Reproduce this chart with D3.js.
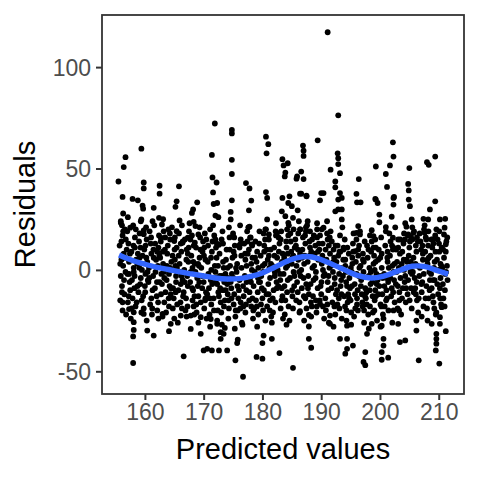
<!DOCTYPE html>
<html>
<head>
<meta charset="utf-8">
<script src="https://cdn.jsdelivr.net/npm/d3@7"></script>
<style>
  html, body { margin: 0; padding: 0; background: #fff; }
  svg { display: block; font-family: "Liberation Sans", Arial, Helvetica, sans-serif; }
</style>
</head>
<body>
<svg id="chart" width="480" height="480"></svg>
<script>
// Residuals vs predicted values

const xTicks = [160, 170, 180, 190, 200, 210];
const yTicks = [-50, 0, 50, 100];
const xTitle = "Predicted values";
const yTitle = "Residuals";

// points well above the band  [predicted, residual]
const upperPoints = [
  [159.4,59.8],[156.7,55.6],[156.4,50.7],[155.5,43.6],[171.9,72.2],[174.8,69],[174.8,67.3],[180.6,65.7],[181,62],[180.7,57.5],
  [171.4,56.7],[174.8,54.3],[174.8,47.3],[171.5,45.6],[172.2,43.1],[171.6,38.2],[159.8,43.1],[159.8,40.2],[162.5,41.5],[162.5,37.6],
  [165.8,41.2],[177.2,42.8],[177.8,40.2],[180.6,38.4],[183.4,54.6],[183.6,51.5],[184.3,52.6],[183.9,48],[183.8,46.1],[156.2,36],[157.9,35],
  [191.1,117.2],[192.9,76.2],[189.4,63.9],[186.9,61.3],[187,58.8],[187,56.2],[192.8,57.5],[192.9,55.1],[192.9,52.2],[191.6,49.4],
  [193.2,47.7],[192.4,43.6],[192.4,40.7],[193.2,37.9],[196.4,44.8],[196,37.5],[190.4,37.9],[186.6,37.6],[187.5,36.6],[185.9,46.1],
  [185.8,45],[187,44.8],[186.6,48.5],[199.3,51],[201,47.3],[201.2,40.9],[201.7,51.5],[202.3,55.9],[202.2,62.9],[205,50.2],
  [204.8,42.4],[204.9,39.2],[208,53.1],[208.3,51.8],[209.4,55.9],[202.4,36],[199.2,35],
  [158.8,34.3],[159.6,31.7],[159.7,30.2],[161.5,30.6],[165.4,33.8],[165.2,31.1],[168.9,33.3],[168.2,29.8],[168,28.1],[156.3,27.8],
  [155.9,23.2],[156.1,22],[156.6,20],[157.5,20.8],[159.4,24.9],[162.4,25.7],[162.9,22.4],[165.9,24.4],[168.3,23.7],[168.6,21.6],
  [169.1,17.5],[171.7,32.5],[172.3,33],[172,26.8],[172.5,26],[172,15],[172.6,12.4],[159.8,19.5],[159.8,17.6],[162.7,15.9],
  [165.4,19.1],[165,14.2],[166.4,13.4],[167.3,15.9],[168.5,13.4],
  [180.8,35.5],[174.8,34.3],[178.1,34.2],[174.6,28.6],[174.6,24.9],[177.7,29.4],[177.8,21.3],[183.4,35.5],[184.6,36.3],[184.4,33],
  [185,31.4],[183.3,28.9],[183.9,26.5],[185.2,25.7],[186.4,37.6],[187.5,36.3],[186,29.4],[187.7,24],[190,37.9],[189.8,34.3],
  [192.9,34.7],[192.9,29.8],[192.4,28.9],[180.8,24.9],[180.5,20],[181.1,17.5],[182.5,18.3],[184.4,23.2],[184.2,20],[191,24],
  [190.4,20.8],[189.3,20],[187.4,19.1],[186.4,20],[175,16.7],[175.2,16],[177.9,15.9],[178.2,12.6],[176.2,12.6],
  [196.1,33.3],[196.7,33.3],[199.3,34.7],[199.6,33],[202.3,35.5],[202.3,32.2],[204.9,34.7],[205.1,31.4],[209.4,33.8],[208.5,29.8],
  [207.4,25.2],[208.2,24.9],[210.2,24.9],[211.1,25.2],[193.5,35.5],[193.5,29.8],[193.5,24.9],[199.9,27.3],[199.9,23.5],[202,26.2],
  [205.4,24.9],[196.3,21.6],[196,18.3],[196.6,17.5],[198.6,19.6],[198.9,16.7],[199.2,15],[201,21.1],[202.2,15.9],[204.5,21.3],
  [204.8,17.5],[205.7,18.3],[205.5,15],[207.6,18.3],[207.9,15],[209,15],[209.6,20],[211,20.8],[210.9,17.5],[211.2,12.6],
  [193.8,11],[195.8,9.3],[198.9,11],[202.3,11]
];

// points well below the band
const lowerPoints = [
  [158,-45.9],[166.6,-42.6],[158,-32.8],[158.1,-29.6],[158.1,-25.8],[160.4,-29.9],[161.5,-32.4],[164.1,-30.2],[164.4,-26.6],[167.8,-29.1],
  [169.5,-31.5],[170.6,-38.9],[170,-39.7],[171.4,-39.7],[172.6,-39.7],[172.9,-34],[172.9,-30.7],[156.2,-16],[157.3,-19.3],[158.1,-20.9],
  [159.8,-21.7],[163,-21.7],[166.1,-22.5],[167.8,-22.5],[169.5,-23.3],[171.2,-24.2],[172.3,-26.6],
  [176.7,-52.7],[185.2,-48.3],[175.4,-44.6],[179,-42.9],[180,-43.8],[182.9,-41],[174,-39.7],[175.7,-36.1],[175.8,-34.4],
  [180,-36.1],[181.6,-34],[180.2,-32.4],[187.9,-34],[187.9,-27.9],[191.5,-26.6],[187.9,-22.2],[189.8,-16.8],[191.5,-22.5],[193.2,-34],
  [186.4,-20.4],[173.4,-31.5],[173.6,-28.6],
  [197.5,-47],[197.2,-45.4],[200.3,-44.3],[201.4,-43.3],[206.6,-44.6],[210.1,-46.2],[194.4,-38.9],[194.1,-41.3],[195.4,-37.3],[197.5,-40.5],
  [200.3,-40.5],[200.6,-37.3],[200.6,-34],[203.4,-35.6],[204.3,-34.8],[209.5,-39.7],[209.6,-36.4],[209.6,-34],[209.6,-31.5],[211.2,-30.2],
  [210.2,-26.6],[210.5,-18.4],[210.2,-23.3],[194.4,-27.5],[194.4,-34],[197.8,-31.5],[198.6,-26.6],[200.3,-27.5],[203.1,-26.6],[206.2,-25],
  [208.8,-26.6],[206.2,-29.9],[188.3,-38.4]
];

// the dense band around zero
const corePoints = [
  [155.7,12],[155.9,-3],[156.0,5],[156.2,17],[155.8,-15],[156.4,8],[156.1,-8],[156.3,2],[155.9,24],[156.5,-12],[156.2,-20],[156.0,14],
  [156.7,-1],[156.9,10],[157.1,-16],[157.3,4],[157.0,19],[157.4,-6],[156.8,-22],[157.2,13],[157.5,-10],[156.6,6],[157.1,26],[157.3,-2],
  [157.7,9],[157.9,-14],[158.1,1],[158.3,16],[157.8,-5],[158.4,-18],[158.0,22],[158.2,-9],[158.5,5],[157.6,-24],[158.3,11],[158.1,-1],
  [158.7,3],[158.9,-11],[159.1,18],[159.3,-4],[158.8,8],[159.4,-21],[159.0,14],[159.2,-7],[159.5,0],[158.6,-16],[159.3,24],[159.1,6],
  [159.7,-13],[159.9,10],[160.1,-2],[160.3,15],[159.8,-19],[160.4,4],[160.0,-8],[160.2,21],[160.5,-5],[159.6,7],[160.3,-25],[160.1,12],
  [160.7,1],[160.9,-17],[161.1,8],[161.3,-10],[160.8,19],[161.4,-3],[161.0,13],[161.2,-22],[161.5,6],[160.6,-6],[161.3,24],[161.1,-14],
  [161.7,-9],[161.9,5],[162.1,-20],[162.3,11],[161.8,-1],[162.4,17],[162.0,-13],[162.2,2],[162.5,-6],[161.6,22],[162.3,-24],[162.1,9],
  [162.7,14],[162.9,-7],[163.1,3],[163.3,-16],[162.8,-2],[163.4,10],[163.0,-23],[163.2,19],[163.5,-11],[162.6,6],[163.3,-4],[163.1,25],
  [163.7,-5],[163.9,12],[164.1,-18],[164.3,1],[163.8,8],[164.4,-12],[164.0,20],[164.2,-8],[164.5,4],[163.6,-21],[164.3,15],[164.1,-2],
  [164.7,7],[164.9,-14],[165.1,16],[165.3,-3],[164.8,-9],[165.4,11],[165.0,-24],[165.2,2],[165.5,-17],[164.6,21],[165.3,-6],[165.1,5],
  [165.7,-10],[165.9,3],[166.1,13],[166.3,-19],[165.8,18],[166.4,-5],[166.0,-1],[166.2,9],[166.5,-13],[165.6,-26],[166.3,22],[166.1,-7],
  [166.7,0],[166.9,-20],[167.1,10],[167.3,-8],[166.8,15],[167.4,4],[167.0,-14],[167.2,-3],[167.5,19],[166.6,-11],[167.3,8],[167.1,-23],
  [167.7,-6],[167.9,7],[168.1,-15],[168.3,12],[167.8,-1],[168.4,-22],[168.0,17],[168.2,-10],[168.5,3],[167.6,23],[168.3,-18],[168.1,1],
  [168.7,11],[168.9,-4],[169.1,-13],[169.3,6],[168.8,-21],[169.4,16],[169.0,-8],[169.2,2],[169.5,-16],[168.6,-1],[169.3,21],[169.1,-26],
  [169.7,-3],[169.9,14],[170.1,-19],[170.3,5],[169.8,9],[170.4,-11],[170.0,-6],[170.2,18],[170.5,-24],[169.6,1],[170.3,-14],[170.1,11],
  [170.7,4],[170.9,-9],[171.1,20],[171.3,-17],[170.8,-2],[171.4,9],[171.0,-22],[171.2,-5],[171.5,14],[170.6,-12],[171.3,0],[171.1,-28],
  [171.7,-14],[171.9,2],[172.1,11],[172.3,-7],[171.8,17],[172.4,-20],[172.0,-1],[172.2,6],[172.5,-11],[171.6,22],[172.3,-25],[172.1,-4],
  [172.7,8],[172.9,-16],[173.1,-3],[173.3,13],[172.8,-9],[173.4,1],[173.0,-21],[173.2,19],[173.5,-6],[172.6,-13],[173.3,4],[173.1,-27],
  [173.7,-2],[173.9,10],[174.1,-12],[174.3,-19],[173.8,5],[174.4,16],[174.0,-7],[174.2,-24],[174.5,2],[173.6,-15],[174.3,21],[174.1,-4],
  [174.7,-9],[174.9,6],[175.1,-17],[175.3,12],[174.8,-2],[175.4,-23],[175.0,18],[175.2,-12],[175.5,1],[174.6,-6],[175.3,-29],[175.1,9],
  [175.7,3],[175.9,-14],[176.1,-5],[176.3,15],[175.8,-20],[176.4,7],[176.0,-10],[176.2,22],[176.5,-26],[175.6,-1],[176.3,-16],[176.1,11],
  [176.7,-8],[176.9,13],[177.1,-21],[177.3,2],[176.8,-13],[177.4,19],[177.0,-3],[177.2,-17],[177.5,8],[176.6,-27],[177.3,-6],[177.1,5],
  [177.7,10],[177.9,-4],[178.1,-18],[178.3,6],[177.8,-11],[178.4,-24],[178.0,16],[178.2,0],[178.5,-8],[177.6,21],[178.3,-14],[178.1,3],
  [178.7,-1],[178.9,-15],[179.1,9],[179.3,-22],[178.8,14],[179.4,-6],[179.0,4],[179.2,-11],[179.5,19],[178.6,-19],[179.3,1],[179.1,-28],
  [179.7,7],[179.9,-9],[180.1,-20],[180.3,12],[179.8,-3],[180.4,3],[180.0,-14],[180.2,18],[180.5,-25],[179.6,-6],[180.3,9],[180.1,-1],
  [180.7,-12],[180.9,5],[181.1,15],[181.3,-4],[180.8,-18],[181.4,10],[181.0,-7],[181.2,1],[181.5,-23],[180.6,20],[181.3,-15],[181.1,7],
  [181.7,2],[181.9,-10],[182.1,-1],[182.3,17],[181.8,-21],[182.4,-6],[182.0,11],[182.2,-16],[182.5,6],[181.6,-26],[182.3,23],[182.1,-3],
  [182.7,-8],[182.9,13],[183.1,-19],[183.3,4],[182.8,9],[183.4,-13],[183.0,-2],[183.2,19],[183.5,-24],[182.6,0],[183.3,-9],[183.1,15],
  [183.7,6],[183.9,-15],[184.1,11],[184.3,-5],[183.8,-22],[184.4,17],[184.0,1],[184.2,-11],[184.5,22],[183.6,-2],[184.3,8],[184.1,-27],
  [184.7,-4],[184.9,9],[185.1,-13],[185.3,20],[184.8,14],[185.4,-8],[185.0,3],[185.2,-19],[185.5,11],[184.6,-25],[185.3,-1],[185.1,6],
  [185.7,12],[185.9,-6],[186.1,18],[186.3,-16],[185.8,2],[186.4,8],[186.0,-11],[186.2,24],[186.5,-3],[185.6,15],[186.3,-21],[186.1,5],
  [186.7,-9],[186.9,16],[187.1,3],[187.3,-14],[186.8,10],[187.4,21],[187.0,-4],[187.2,7],[187.5,-19],[186.6,0],[187.3,13],[187.1,-25],
  [187.7,4],[187.9,-12],[188.1,19],[188.3,9],[187.8,-3],[188.4,-18],[188.0,14],[188.2,-7],[188.5,1],[187.6,22],[188.3,-23],[188.1,11],
  [188.7,-5],[188.9,8],[189.1,-15],[189.3,16],[188.8,2],[189.4,-9],[189.0,12],[189.2,-21],[189.5,5],[188.6,-13],[189.3,23],[189.1,-1],
  [189.7,10],[189.9,-8],[190.1,3],[190.3,-18],[189.8,17],[190.4,-3],[190.0,-12],[190.2,7],[190.5,-24],[189.6,13],[190.3,0],[190.1,20],
  [190.7,-14],[190.9,5],[191.1,-6],[191.3,12],[190.8,-20],[191.4,1],[191.0,18],[191.2,-10],[191.5,8],[190.6,-2],[191.3,-26],[191.1,15],
  [191.7,2],[191.9,-16],[192.1,10],[192.3,-7],[191.8,14],[192.4,-22],[192.0,-1],[192.2,6],[192.5,-12],[191.6,19],[192.3,-4],[192.1,-28],
  [192.7,-10],[192.9,7],[193.1,-19],[193.3,1],[192.8,12],[193.4,-5],[193.0,-14],[193.2,17],[193.5,-24],[192.6,4],[193.3,-8],[193.1,9],
  [193.7,-3],[193.9,-13],[194.1,5],[194.3,-20],[193.8,10],[194.4,-8],[194.0,15],[194.2,-1],[194.5,-16],[193.6,21],[194.3,-25],[194.1,2],
  [194.7,8],[194.9,-9],[195.1,-21],[195.3,3],[194.8,-4],[195.4,13],[195.0,-15],[195.2,-1],[195.5,18],[194.6,-12],[195.3,6],[195.1,-27],
  [195.7,-7],[195.9,4],[196.1,-14],[196.3,10],[195.8,-19],[196.4,-3],[196.0,15],[196.2,-10],[196.5,1],[195.6,-23],[196.3,7],[196.1,-17],
  [196.7,2],[196.9,-12],[197.1,8],[197.3,-20],[196.8,-5],[197.4,14],[197.0,-16],[197.2,-1],[197.5,-9],[196.6,19],[197.3,-26],[197.1,5],
  [197.7,-11],[197.9,6],[198.1,-3],[198.3,-18],[197.8,12],[198.4,-7],[198.0,-22],[198.2,1],[198.5,9],[197.6,-14],[198.3,17],[198.1,-29],
  [198.7,-6],[198.9,3],[199.1,-15],[199.3,11],[198.8,-21],[199.4,-2],[199.0,7],[199.2,-10],[199.5,-25],[198.6,14],[199.3,-13],[199.1,0],
  [199.7,5],[199.9,-8],[200.1,-17],[200.3,1],[199.8,10],[200.4,-12],[200.0,-3],[200.2,16],[200.5,-22],[199.6,-5],[200.3,8],[200.1,-28],
  [200.7,-2],[200.9,12],[201.1,-10],[201.3,4],[200.8,-18],[201.4,-6],[201.0,19],[201.2,-14],[201.5,1],[200.6,-24],[201.3,9],[201.1,-4],
  [201.7,7],[201.9,-13],[202.1,2],[202.3,-20],[201.8,14],[202.4,-5],[202.0,-9],[202.2,10],[202.5,-16],[201.6,18],[202.3,-1],[202.1,-26],
  [202.7,-7],[202.9,4],[203.1,15],[203.3,-11],[202.8,-1],[203.4,8],[203.0,-19],[203.2,1],[203.5,-4],[202.6,21],[203.3,-15],[203.1,11],
  [203.7,3],[203.9,-9],[204.1,18],[204.3,-3],[203.8,9],[204.4,-16],[204.0,13],[204.2,-6],[204.5,5],[203.6,-22],[204.3,23],[204.1,0],
  [204.7,-12],[204.9,7],[205.1,1],[205.3,16],[204.8,-5],[205.4,-19],[205.0,11],[205.2,-1],[205.5,21],[204.6,4],[205.3,-9],[205.1,14],
  [205.7,6],[205.9,-4],[206.1,12],[206.3,-15],[205.8,19],[206.4,2],[206.0,-9],[206.2,9],[206.5,-21],[205.6,-1],[206.3,16],[206.1,-12],
  [206.7,-3],[206.9,14],[207.1,-11],[207.3,5],[206.8,1],[207.4,-18],[207.0,10],[207.2,-6],[207.5,20],[206.6,-14],[207.3,8],[207.1,-23],
  [207.7,9],[207.9,-8],[208.1,3],[208.3,-14],[207.8,16],[208.4,-1],[208.0,-19],[208.2,12],[208.5,-5],[207.6,22],[208.3,6],[208.1,-25],
  [208.7,-2],[208.9,11],[209.1,-16],[209.3,4],[208.8,-9],[209.4,17],[209.0,-13],[209.2,1],[209.5,-22],[208.6,7],[209.3,-5],[209.1,13],
  [209.7,5],[209.9,-12],[210.1,9],[210.3,-4],[209.8,15],[210.4,-17],[210.0,0],[210.2,-9],[210.5,11],[209.6,-21],[210.3,3],[210.1,19],
  [210.7,-7],[210.9,6],[211.1,-2],[211.3,14],[210.8,-14],[211.4,2],[211.0,-18],[211.2,9],[211.5,-5],[210.6,1]
];

// extra points where the band is darkest (-20 .. 20)
const bandPoints = [
  [155.8,3],[156.1,-11],[156.3,19],[156.45,-5],[156.75,15],[157.05,-2],[157.25,-13],[157.45,8],
  [157.75,-19],[158.05,12],[158.25,-3],[158.45,20],[158.75,-8],[159.05,1],[159.25,11],[159.45,-15],
  [159.75,18],[160.05,-11],[160.25,6],[160.45,-1],[160.75,-4],[161.05,16],[161.25,-19],[161.45,10],
  [161.75,13],[162.05,-6],[162.25,-16],[162.45,7],[162.75,-12],[163.05,9],[163.25,-1],[163.45,16],
  [163.75,2],[164.05,-14],[164.25,18],[164.45,-9],[164.75,-19],[165.05,10],[165.25,-11],[165.45,1],
  [165.75,7],[166.05,-16],[166.25,-3],[166.45,14],[166.75,-6],[167.05,5],[167.25,-18],[167.45,11],
  [167.75,15],[168.05,-9],[168.25,4],[168.45,-13],[168.75,-17],[169.05,3],[169.25,-6],[169.45,10],
  [169.75,-9],[170.05,7],[170.25,-15],[170.45,15],[170.75,12],[171.05,-14],[171.25,6],[171.45,-7],
  [171.75,-20],[172.05,-6],[172.25,13],[172.45,2],[172.75,-3],[173.05,15],[173.25,-10],[173.45,-18],
  [173.75,-10],[174.05,1],[174.25,-15],[174.45,10],[174.75,-14],[175.05,-4],[175.25,7],[175.45,-20],
  [175.75,-8],[176.05,12],[176.25,-19],[176.45,1],[176.75,-18],[177.05,8],[177.25,-10],[177.45,14],
  [177.75,-15],[178.05,-6],[178.25,12],[178.45,-20],[178.75,6],[179.05,-18],[179.25,-4],[179.45,13],
  [179.75,-17],[180.05,2],[180.25,-10],[180.45,15],[180.75,10],[181.05,-12],[181.25,-20],[181.45,3],
  [181.75,-14],[182.05,7],[182.25,19],[182.45,-9],[182.75,16],[183.05,-5],[183.25,-15],[183.45,8],
  [183.75,-8],[184.05,14],[184.25,2],[184.45,-18],[184.75,18],[185.05,-10],[185.25,7],[185.45,-3],
  [185.75,-15],[186.05,10],[186.25,-1],[186.45,20],[186.75,6],[187.05,-13],[187.25,17],[187.45,-7],
  [187.75,-9],[188.05,7],[188.25,-16],[188.45,15],[188.75,17],[189.05,-4],[189.25,-18],[189.45,9],
  [189.75,-15],[190.05,-6],[190.25,13],[190.45,5],[190.75,10],[191.05,-17],[191.25,-3],[191.45,16],
  [191.75,-9],[192.05,4],[192.25,-18],[192.45,12],[192.75,-17],[193.05,-2],[193.25,9],[193.45,-12],
  [193.75,5],[194.05,-18],[194.25,-6],[194.45,11],[194.75,-14],[195.05,1],[195.25,-8],[195.45,9],
  [195.75,-12],[196.05,-2],[196.25,-20],[196.45,12],[196.75,-8],[197.05,-18],[197.25,4],[197.45,-13],
  [197.75,-17],[198.05,10],[198.25,-10],[198.45,-1],[198.75,-13],[199.05,-20],[199.25,4],[199.45,-7],
  [199.75,-12],[200.05,6],[200.25,-18],[200.45,-4],[200.75,-8],[201.05,-15],[201.25,6],[201.45,-20],
  [201.75,-4],[202.05,12],[202.25,-11],[202.45,3],[202.75,10],[203.05,-8],[203.25,-20],[203.45,15],
  [203.75,-14],[204.05,5],[204.25,15],[204.45,-9],[204.75,17],[205.05,-15],[205.25,4],[205.45,-2],
  [205.75,-11],[206.05,3],[206.25,-6],[206.45,14],[206.75,18],[207.05,-7],[207.25,12],[207.45,-2],
  [207.75,-14],[208.05,5],[208.25,19],[208.45,-10],[208.75,15],[209.05,-5],[209.25,-19],[209.45,9],
  [209.75,-7],[210.05,13],[210.25,-14],[210.45,2],[210.75,10],[211.05,-10],[211.25,-1],[211.45,16]
];

// loess curve
const smoothX = [155.6, 158, 160, 162, 164, 166, 168, 170, 172, 174, 176, 178, 180, 182, 184, 186, 187.6, 189.5, 192, 194, 196, 198.5, 200.5, 203, 205.5, 207.5, 209.5, 211.6];
const smoothY = [7.3, 4.5, 2.8, 1.3, 0.2, -1, -2, -3, -4, -4.5, -4.3, -3.2, -1.5, 1.2, 4, 6, 6.6, 5.6, 2.6, 0, -2.6, -4, -3.2, -0.6, 1.8, 1.7, -0.1, -2.1];

const width = 480, height = 480;
const panel = { left: 102, right: 464, top: 15, bottom: 394 };
const inkColor = "#333333";
const tickTextColor = "#4D4D4D";
const fontStack = "'Liberation Sans', Arial, Helvetica, sans-serif";

const allPoints = upperPoints.concat(corePoints, bandPoints, lowerPoints);

// ggplot-style 5% expansion of the data range
function expand(extent, mult) {
  const pad = (extent[1] - extent[0]) * mult;
  return [extent[0] - pad, extent[1] + pad];
}

const x = d3.scaleLinear()
  .domain(expand(d3.extent(allPoints, d => d[0]), 0.05))
  .range([panel.left, panel.right]);

const y = d3.scaleLinear()
  .domain(expand(d3.extent(allPoints, d => d[1]), 0.05))
  .range([panel.bottom, panel.top]);

const svg = d3.select("#chart");

svg.append("rect")
  .attr("width", width).attr("height", height)
  .attr("fill", "#fff");

svg.append("defs").append("clipPath").attr("id", "panel-clip")
  .append("rect")
  .attr("x", panel.left).attr("y", panel.top)
  .attr("width", panel.right - panel.left)
  .attr("height", panel.bottom - panel.top);

const plot = svg.append("g").attr("clip-path", "url(#panel-clip)");

plot.append("g")
  .selectAll("circle")
  .data(allPoints)
  .join("circle")
  .attr("cx", d => x(d[0]))
  .attr("cy", d => y(d[1]))
  .attr("r", 2.9)
  .attr("fill", "#000");

const smoothData = smoothX.map((v, i) => [v, smoothY[i]]);
const line = d3.line()
  .x(d => x(d[0]))
  .y(d => y(d[1]))
  .curve(d3.curveCatmullRom.alpha(0.5));

plot.append("path")
  .datum(smoothData)
  .attr("d", line)
  .attr("fill", "none")
  .attr("stroke", "#3366FF")
  .attr("stroke-width", 5.4)
  .attr("stroke-linecap", "butt");

// axes (plain hyphen for negatives, like the reference)
const tickFmt = d => String(d);

const xAxis = svg.append("g")
  .attr("transform", `translate(0,${panel.bottom})`)
  .call(d3.axisBottom(x).tickValues(xTicks).tickFormat(tickFmt).tickSize(6).tickPadding(4).tickSizeOuter(0));

const yAxis = svg.append("g")
  .attr("transform", `translate(${panel.left},0)`)
  .call(d3.axisLeft(y).tickValues(yTicks).tickFormat(tickFmt).tickSize(6).tickPadding(5).tickSizeOuter(0));

[xAxis, yAxis].forEach(ax => {
  ax.select(".domain").remove();
  ax.selectAll(".tick line").attr("stroke", inkColor).attr("stroke-width", 2);
  ax.selectAll(".tick text")
    .attr("fill", tickTextColor)
    .style("font-size", "23px")
    .style("font-family", fontStack);
});
yAxis.selectAll(".tick text").attr("dy", "0.35em");

// panel border
svg.append("rect")
  .attr("x", panel.left).attr("y", panel.top)
  .attr("width", panel.right - panel.left)
  .attr("height", panel.bottom - panel.top)
  .attr("fill", "none")
  .attr("stroke", inkColor)
  .attr("stroke-width", 1.8);

// titles
svg.append("text")
  .attr("x", (panel.left + panel.right) / 2)
  .attr("y", 459)
  .attr("text-anchor", "middle")
  .attr("fill", "#000")
  .style("font-size", "29px")
  .text(xTitle);

svg.append("text")
  .attr("transform", `translate(35,${(panel.top + panel.bottom) / 2}) rotate(-90)`)
  .attr("text-anchor", "middle")
  .attr("fill", "#000")
  .style("font-size", "29px")
  .text(yTitle);
</script>
</body>
</html>
